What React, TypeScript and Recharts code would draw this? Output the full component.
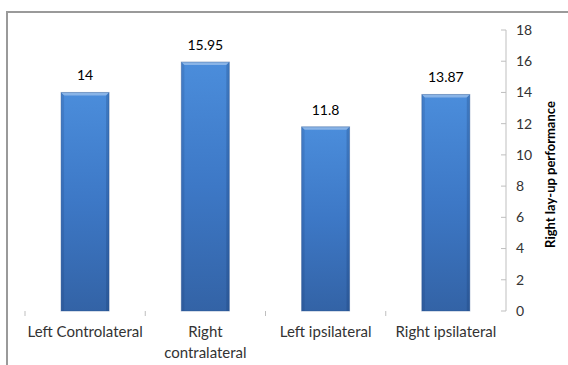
import React from 'react';
import { BarChart, Bar, XAxis, YAxis, LabelList } from 'recharts';

const categories = ['Left Controlateral', 'Right contralateral', 'Left ipsilateral', 'Right ipsilateral'];
const tickLines = [['Left Controlateral'], ['Right', 'contralateral'], ['Left ipsilateral'], ['Right ipsilateral']];
const performance = [14, 15.95, 11.8, 13.87];
const performanceLabels = ['14', '15.95', '11.8', '13.87'];
const yTicks = [0, 2, 4, 6, 8, 10, 12, 14, 16, 18];

const data = categories.map((name, i) => ({
  name,
  value: performance[i],
  label: performanceLabels[i],
}));

const FONT = 'Lato, "Open Sans", sans-serif';

const BevelBar = (props: any) => {
  const { x, y, width, height } = props;
  if (!height || height <= 0) return null;
  const b = 3;
  return (
    <g>
      <rect x={x} y={y} width={width} height={height} fill="url(#barFace)" />
      <polygon points={`${x},${y} ${x + width},${y} ${x + width - b},${y + b} ${x + b},${y + b}`} fill="rgba(255,255,255,0.35)" />
      <polygon points={`${x},${y} ${x + b},${y + b} ${x + b},${y + height} ${x},${y + height}`} fill="rgba(20,50,100,0.15)" />
      <polygon points={`${x + width},${y} ${x + width - b},${y + b} ${x + width - b},${y + height} ${x + width},${y + height}`} fill="rgba(20,50,100,0.22)" />
      <rect x={x} y={y} width={width} height={height} fill="none" stroke="rgba(40,80,140,0.4)" strokeWidth={1} />
    </g>
  );
};

const CategoryTick = (props: any) => {
  const { x, y, payload } = props;
  const half = payload.offset || 60;
  const lines = tickLines[payload.index] || [payload.value];
  return (
    <g>
      <line x1={x - half} y1={y - 10} x2={x - half} y2={y - 5} stroke="#bfbfbf" />
      {lines.map((t: string, i: number) => (
        <text key={i} x={x} y={y + 16 + i * 21} textAnchor="middle" fontFamily={FONT} fontSize={15} fill="#333">
          {t}
        </text>
      ))}
    </g>
  );
};

const ValueTick = (props: any) => {
  const { x, y, payload } = props;
  return (
    <g>
      <line x1={x - 15} y1={y} x2={x - 10} y2={y} stroke="#bfbfbf" />
      <text x={x} y={y} dy="0.35em" textAnchor="start" fontFamily={FONT} fontSize={14} fill="#333">
        {payload.value}
      </text>
    </g>
  );
};

const AxisTitle = (props: any) => {
  const { viewBox } = props;
  const cx = viewBox.x + 44;
  const cy = viewBox.y + viewBox.height / 2 + 4;
  return (
    <text x={cx} y={cy} transform={`rotate(-90 ${cx} ${cy})`} textAnchor="middle" dominantBaseline="central" fontFamily={FONT} fontSize={13} fontWeight="bold" fill="#000">
      Right lay-up performance
    </text>
  );
};

const App: React.FC = () => {
  return (
    <div style={{ position: 'absolute', left: 0, top: 0, width: 568, height: 365, overflow: 'hidden', background: '#fff' }}>
      <div style={{ position: 'absolute', left: 6, top: 11, width: 600, height: 400, border: '2px solid #9a9a9a', boxSizing: 'border-box' }} />
      <div style={{ position: 'absolute', left: 0, top: 0 }}>
        <BarChart
          width={568}
          height={365}
          data={data}
          margin={{ top: 30, right: 12, left: 25, bottom: 0 }}
          barCategoryGap="30%"
        >
          <defs>
            <linearGradient id="barFace" x1="0" y1="0" x2="0" y2="1">
              <stop offset="0%" stopColor="#4b8ddb" />
              <stop offset="50%" stopColor="#3d78c6" />
              <stop offset="100%" stopColor="#3363a6" />
            </linearGradient>
          </defs>
          <XAxis dataKey="name" height={54} axisLine={false} tickLine={false} tickSize={0} tickMargin={10} tick={<CategoryTick />} interval={0} />
          <YAxis
            orientation="right"
            width={50}
            domain={[0, 18]}
            ticks={yTicks}
            interval={0}
            axisLine={{ stroke: '#bfbfbf' }}
            tickLine={false}
            tickSize={0}
            tickMargin={10}
            tick={<ValueTick />}
            label={<AxisTitle />}
          />
          <Bar dataKey="value" shape={<BevelBar />} isAnimationActive={false}>
            <LabelList dataKey="label" position="top" offset={12} fontFamily={FONT} fontSize={14} fill="#000" />
          </Bar>
        </BarChart>
      </div>
    </div>
  );
};

export default App;
